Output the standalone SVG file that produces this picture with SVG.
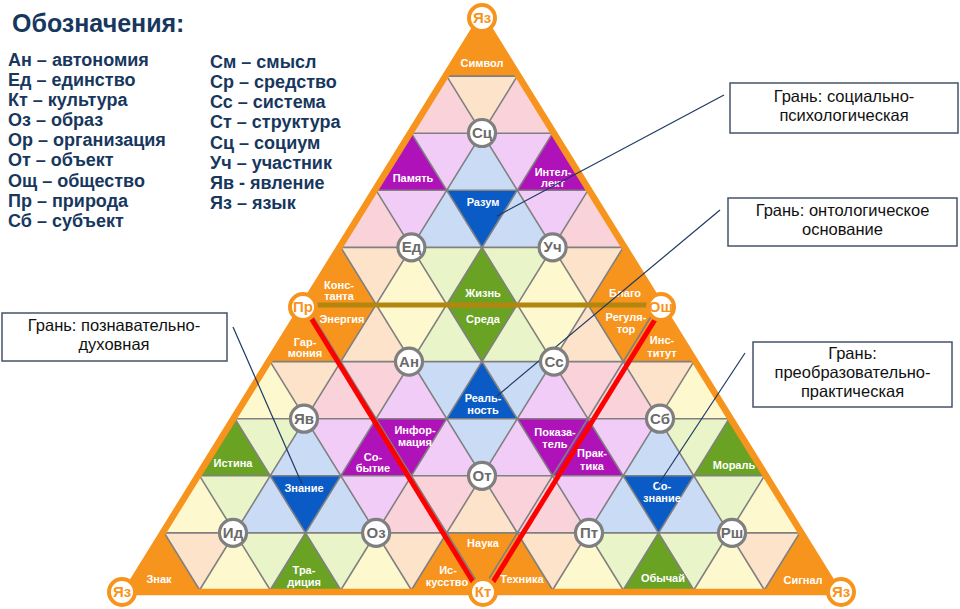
<svg xmlns="http://www.w3.org/2000/svg" xmlns:xlink="http://www.w3.org/1999/xlink" width="960" height="609" viewBox="0 0 960 609">
<style>
.O{fill:#F7941D}.M{fill:#B012B9}.B{fill:#0B5BC6}.G{fill:#6AA324}
.pe{fill:#FCE3C9}.pk{fill:#F9D3D9}.lp{fill:#F0CCF7}.lb{fill:#CADCF5}.lg{fill:#E9F5C8}.ye{fill:#FDF8CE}
.grid{fill:none;stroke:#808080;stroke-width:1.6}
.lbl{font-family:"Liberation Sans",Arial,sans-serif;font-weight:bold;font-size:11px;fill:#fff;text-anchor:middle}
.gn circle{fill:#fff;stroke:#7F7F7F;stroke-width:3.2}
.gn text{font-family:"Liberation Sans",Arial,sans-serif;font-weight:bold;font-size:15px;fill:#6B6B6B;text-anchor:middle}
.cn circle{fill:#fff;stroke:#F7941D;stroke-width:4}
.cn text{font-family:"Liberation Sans",Arial,sans-serif;font-weight:bold;font-size:15px;fill:#F7941D;text-anchor:middle}
.leg{font-family:"Liberation Sans",Arial,sans-serif;font-weight:bold;font-size:18px;fill:#17375E}
.box rect{fill:#fff;stroke:#44546A;stroke-width:1.5}
.box text{font-family:"Liberation Sans",Arial,sans-serif;font-size:16.5px;fill:#111;text-anchor:middle}
.conn line{stroke:#1F3864;stroke-width:1.2}
</style>
<defs>
<path id="u" d="M0 0L-35.3 57.1L35.3 57.1Z"/>
<path id="d" d="M-35.3 0L35.3 0L0 57.1Z"/>
</defs>
<rect width="960" height="609" fill="#fff"/>
<!-- legend -->
<g id="legend">
<text class="leg" x="12" y="32" style="font-size:25px">Обозначения:</text>
<text class="leg" x="8" y="66">Ан – автономия</text>
<text class="leg" x="8" y="86">Ед – единство</text>
<text class="leg" x="8" y="106">Кт – культура</text>
<text class="leg" x="8" y="126">Оз – образ</text>
<text class="leg" x="8" y="146">Ор – организация</text>
<text class="leg" x="8" y="166">От – объект</text>
<text class="leg" x="8" y="187">Ощ – общество</text>
<text class="leg" x="8" y="207">Пр – природа</text>
<text class="leg" x="8" y="227">Сб – субъект</text>
<text class="leg" x="210" y="68">См – смысл</text>
<text class="leg" x="210" y="88">Ср – средство</text>
<text class="leg" x="210" y="108">Сс – система</text>
<text class="leg" x="210" y="128">Ст – структура</text>
<text class="leg" x="210" y="149">Сц – социум</text>
<text class="leg" x="210" y="169">Уч – участник</text>
<text class="leg" x="210" y="189">Яв - явление</text>
<text class="leg" x="210" y="209">Яз – язык</text>
</g>
<!-- plain cells -->
<g id="cells">
<use href="#u" x="446.7" y="76.1" class="pk"/><use href="#d" x="482" y="76.1" class="pe"/><use href="#u" x="517.3" y="76.1" class="pk"/>
<use href="#d" x="446.7" y="133.2" class="lp"/><use href="#u" x="482" y="133.2" class="lb"/><use href="#d" x="517.3" y="133.2" class="lp"/>
<use href="#u" x="376.1" y="190.3" class="pk"/><use href="#d" x="411.4" y="190.3" class="lp"/><use href="#u" x="446.7" y="190.3" class="lb"/><use href="#u" x="517.3" y="190.3" class="lb"/><use href="#d" x="552.6" y="190.3" class="lp"/><use href="#u" x="587.9" y="190.3" class="pk"/>
<use href="#d" x="376.1" y="247.4" class="pe"/><use href="#u" x="411.4" y="247.4" class="ye"/><use href="#d" x="446.7" y="247.4" class="lg"/><use href="#d" x="517.3" y="247.4" class="lg"/><use href="#u" x="552.6" y="247.4" class="ye"/><use href="#d" x="587.9" y="247.4" class="pe"/>
<use href="#u" x="376.1" y="304.5" class="pe"/><use href="#d" x="411.4" y="304.5" class="ye"/><use href="#u" x="446.7" y="304.5" class="lg"/><use href="#u" x="517.3" y="304.5" class="lg"/><use href="#d" x="552.6" y="304.5" class="ye"/><use href="#u" x="587.9" y="304.5" class="pe"/>
<use href="#u" x="270.2" y="361.6" class="ye"/><use href="#d" x="305.5" y="361.6" class="pe"/><use href="#u" x="340.8" y="361.6" class="pk"/><use href="#d" x="376.1" y="361.6" class="pk"/><use href="#u" x="411.4" y="361.6" class="lp"/><use href="#d" x="446.7" y="361.6" class="lb"/><use href="#d" x="517.3" y="361.6" class="lb"/><use href="#u" x="552.6" y="361.6" class="lp"/><use href="#d" x="587.9" y="361.6" class="pk"/><use href="#u" x="623.2" y="361.6" class="pk"/><use href="#d" x="658.5" y="361.6" class="pe"/><use href="#u" x="693.8" y="361.6" class="ye"/>
<use href="#d" x="270.2" y="418.7" class="lg"/><use href="#u" x="305.5" y="418.7" class="lb"/><use href="#d" x="340.8" y="418.7" class="lp"/><use href="#u" x="446.7" y="418.7" class="lp"/><use href="#d" x="482" y="418.7" class="lb"/><use href="#u" x="517.3" y="418.7" class="lp"/><use href="#d" x="623.2" y="418.7" class="lp"/><use href="#u" x="658.5" y="418.7" class="lb"/><use href="#d" x="693.8" y="418.7" class="lg"/>
<use href="#u" x="199.6" y="475.8" class="ye"/><use href="#d" x="234.9" y="475.8" class="lg"/><use href="#u" x="270.2" y="475.8" class="lb"/><use href="#u" x="340.8" y="475.8" class="lb"/><use href="#d" x="376.1" y="475.8" class="lp"/><use href="#u" x="411.4" y="475.8" class="pk"/><use href="#d" x="446.7" y="475.8" class="pk"/><use href="#u" x="482" y="475.8" class="pe"/><use href="#d" x="517.3" y="475.8" class="pk"/><use href="#u" x="552.6" y="475.8" class="pk"/><use href="#d" x="587.9" y="475.8" class="lp"/><use href="#u" x="623.2" y="475.8" class="lb"/><use href="#u" x="693.8" y="475.8" class="lb"/><use href="#d" x="729.1" y="475.8" class="lg"/><use href="#u" x="764.4" y="475.8" class="ye"/>
<use href="#d" x="199.6" y="532.9" class="pe"/><use href="#u" x="234.9" y="532.9" class="ye"/><use href="#d" x="270.2" y="532.9" class="lg"/><use href="#d" x="340.8" y="532.9" class="lg"/><use href="#u" x="376.1" y="532.9" class="ye"/><use href="#d" x="411.4" y="532.9" class="pe"/><use href="#d" x="552.6" y="532.9" class="pe"/><use href="#u" x="587.9" y="532.9" class="ye"/><use href="#d" x="623.2" y="532.9" class="lg"/><use href="#d" x="693.8" y="532.9" class="lg"/><use href="#u" x="729.1" y="532.9" class="ye"/><use href="#d" x="764.4" y="532.9" class="pe"/>
</g>
<!-- labelled cells -->
<g id="c-simvol"><use href="#u" x="482" y="19" class="O"/></g>
<g id="c-pamyat"><use href="#u" x="411.4" y="133.2" class="M"/></g>
<g id="c-intellekt"><use href="#u" x="552.6" y="133.2" class="M"/></g>
<g id="c-razum"><use href="#d" x="482" y="190.3" class="B"/></g>
<g id="c-konstanta"><use href="#u" x="340.8" y="247.4" class="O"/></g>
<g id="c-zhizn"><use href="#u" x="482" y="247.4" class="G"/></g>
<g id="c-blago"><use href="#u" x="623.2" y="247.4" class="O"/></g>
<g id="c-garmoniya"><use href="#u" x="305.5" y="304.5" class="O"/></g>
<g id="c-energiya"><use href="#d" x="340.8" y="304.5" class="O"/></g>
<g id="c-sreda"><use href="#d" x="482" y="304.5" class="G"/></g>
<g id="c-regulyator"><use href="#d" x="623.2" y="304.5" class="O"/></g>
<g id="c-institut"><use href="#u" x="658.5" y="304.5" class="O"/></g>
<g id="c-realnost"><use href="#u" x="482" y="361.6" class="B"/></g>
<g id="c-istina"><use href="#u" x="234.9" y="418.7" class="G"/></g>
<g id="c-sobytie"><use href="#u" x="376.1" y="418.7" class="M"/></g>
<g id="c-informaciya"><use href="#d" x="411.4" y="418.7" class="M"/></g>
<g id="c-pokazatel"><use href="#d" x="552.6" y="418.7" class="M"/></g>
<g id="c-praktika"><use href="#u" x="587.9" y="418.7" class="M"/></g>
<g id="c-moral"><use href="#u" x="729.1" y="418.7" class="G"/></g>
<g id="c-znanie"><use href="#d" x="305.5" y="475.8" class="B"/></g>
<g id="c-soznanie"><use href="#d" x="658.5" y="475.8" class="B"/></g>
<g id="c-znak"><use href="#u" x="164.3" y="532.9" class="O"/></g>
<g id="c-tradiciya"><use href="#u" x="305.5" y="532.9" class="G"/></g>
<g id="c-iskusstvo"><use href="#u" x="446.7" y="532.9" class="O"/></g>
<g id="c-nauka"><use href="#d" x="482" y="532.9" class="O"/></g>
<g id="c-tehnika"><use href="#u" x="517.3" y="532.9" class="O"/></g>
<g id="c-obychai"><use href="#u" x="658.5" y="532.9" class="G"/></g>
<g id="c-signal"><use href="#u" x="799.7" y="532.9" class="O"/></g>
<!-- grid -->
<path class="grid" d="M446.7 76.1H517.3M411.4 133.2H552.6M376.1 190.3H587.9M340.8 247.4H623.2M305.5 304.5H658.5M270.2 361.6H693.8M234.9 418.7H729.1M199.6 475.8H764.4M164.3 532.9H799.7
M446.7 76.1L764.4 590M411.4 133.2L693.8 590M376.1 190.3L623.2 590M340.8 247.4L552.6 590M305.5 304.5L482 590M270.2 361.6L411.4 590M234.9 418.7L340.8 590M199.6 475.8L270.2 590M164.3 532.9L199.6 590
M517.3 76.1L199.6 590M552.6 133.2L270.2 590M587.9 190.3L340.8 590M623.2 247.4L411.4 590M658.5 304.5L482 590M693.8 361.6L552.6 590M729.1 418.7L623.2 590M764.4 475.8L693.8 590M799.7 532.9L764.4 590"/>
<line x1="303" y1="305" x2="661" y2="305" stroke="#B3860F" stroke-width="5"/>
<path d="M482 17L126 592L838 592Z" fill="none" stroke="#F7941D" stroke-width="6.5" stroke-linejoin="round"/>
<line x1="303" y1="305" x2="478" y2="590" stroke="#FF0000" stroke-width="5"/>
<line x1="664" y1="305" x2="488" y2="590" stroke="#FF0000" stroke-width="5"/>
<!-- cell labels -->
<g class="lbl">
<text x="482" y="67">Символ</text>
<text x="413" y="182">Память</text>
<text x="553" y="176">Интел-</text><text x="553" y="187">лект</text>
<text x="483" y="206">Разум</text>
<text x="339" y="289">Конс-</text><text x="339" y="300">танта</text>
<text x="483" y="297">Жизнь</text>
<text x="625" y="297">Благо</text>
<text x="342" y="323">Энергия</text>
<text x="483" y="323">Среда</text>
<text x="626" y="321">Регуля-</text><text x="626" y="333">тор</text>
<text x="305" y="346">Гар-</text><text x="305" y="357">мония</text>
<text x="662" y="344">Инс-</text><text x="662" y="357">титут</text>
<text x="483" y="402">Реаль-</text><text x="483" y="414">ность</text>
<text x="415" y="434">Инфор-</text><text x="415" y="446">мация</text>
<text x="373" y="461">Со-</text><text x="373" y="472">бытие</text>
<text x="555" y="436">Показа-</text><text x="555" y="448">тель</text>
<text x="592" y="457">Прак-</text><text x="592" y="470">тика</text>
<text x="233" y="467">Истина</text>
<text x="304" y="492">Знание</text>
<text x="662" y="490">Со-</text><text x="662" y="502">знание</text>
<text x="734" y="469">Мораль</text>
<text x="159" y="583">Знак</text>
<text x="304" y="574">Тра-</text><text x="304" y="586">диция</text>
<text x="448" y="574">Ис-</text><text x="447" y="586">кусство</text>
<text x="483" y="547">Наука</text>
<text x="522" y="583">Техника</text>
<text x="663" y="582">Обычай</text>
<text x="803" y="584">Сигнал</text>
</g>
<!-- connectors -->
<g id="connectors" class="conn">
<line x1="724" y1="95" x2="497" y2="216"/>
<line x1="720" y1="210" x2="497" y2="396"/>
<line x1="745" y1="353" x2="658" y2="485"/>
<line x1="233" y1="327" x2="302" y2="484"/>
</g>
<!-- circle nodes -->
<g id="n-sc" class="gn"><circle cx="482" cy="133" r="13.5"/><text x="482" y="138">Сц</text></g>
<g id="n-ed" class="gn"><circle cx="411.4" cy="247.4" r="13.5"/><text x="411.4" y="252.4">Ед</text></g>
<g id="n-uch" class="gn"><circle cx="552.6" cy="247.4" r="13.5"/><text x="552.6" y="252.4">Уч</text></g>
<g id="n-an" class="gn"><circle cx="409" cy="361.6" r="13.5"/><text x="409" y="366.6">Ан</text></g>
<g id="n-ss" class="gn"><circle cx="554" cy="361.6" r="13.5"/><text x="554" y="366.6">Сс</text></g>
<g id="n-yav" class="gn"><circle cx="304" cy="418.7" r="13.5"/><text x="304" y="423.7">Яв</text></g>
<g id="n-sb" class="gn"><circle cx="660" cy="418.7" r="13.5"/><text x="660" y="423.7">Сб</text></g>
<g id="n-ot" class="gn"><circle cx="482" cy="475.8" r="13.5"/><text x="482" y="480.8">От</text></g>
<g id="n-id" class="gn"><circle cx="233" cy="532.9" r="13.5"/><text x="233" y="537.9">Ид</text></g>
<g id="n-oz" class="gn"><circle cx="376.1" cy="532.9" r="13.5"/><text x="376.1" y="537.9">Оз</text></g>
<g id="n-pt" class="gn"><circle cx="589" cy="532.9" r="13.5"/><text x="589" y="537.9">Пт</text></g>
<g id="n-rsh" class="gn"><circle cx="732" cy="532.9" r="13.5"/><text x="732" y="537.9">Рш</text></g>
<g id="n-yaz-top" class="cn"><circle cx="482" cy="18" r="13"/><text x="482" y="23">Яз</text></g>
<g id="n-pr" class="cn"><circle cx="303" cy="307" r="13"/><text x="303" y="312">Пр</text></g>
<g id="n-osch" class="cn"><circle cx="661" cy="307" r="13"/><text x="661" y="312">Ощ</text></g>
<g id="n-yaz-left" class="cn"><circle cx="122" cy="592" r="13"/><text x="122" y="597">Яз</text></g>
<g id="n-kt" class="cn"><circle cx="483" cy="592" r="13"/><text x="483" y="597">Кт</text></g>
<g id="n-yaz-right" class="cn"><circle cx="841" cy="592" r="13"/><text x="841" y="597">Яз</text></g>
<!-- callout boxes -->
<g id="b-social" class="box"><rect x="730" y="83" width="228" height="50"/><text x="844" y="102">Грань: социально-</text><text x="844" y="121">психологическая</text></g>
<g id="b-onto" class="box"><rect x="728" y="198" width="229" height="48"/><text x="842.5" y="216">Грань: онтологическое</text><text x="842.5" y="235">основание</text></g>
<g id="b-prakt" class="box"><rect x="753" y="342" width="199" height="65"/><text x="852.5" y="359">Грань:</text><text x="852.5" y="378">преобразовательно-</text><text x="852.5" y="397">практическая</text></g>
<g id="b-pozn" class="box"><rect x="2" y="313" width="225" height="48"/><text x="114" y="331">Грань: познавательно-</text><text x="114" y="350">духовная</text></g>
</svg>
